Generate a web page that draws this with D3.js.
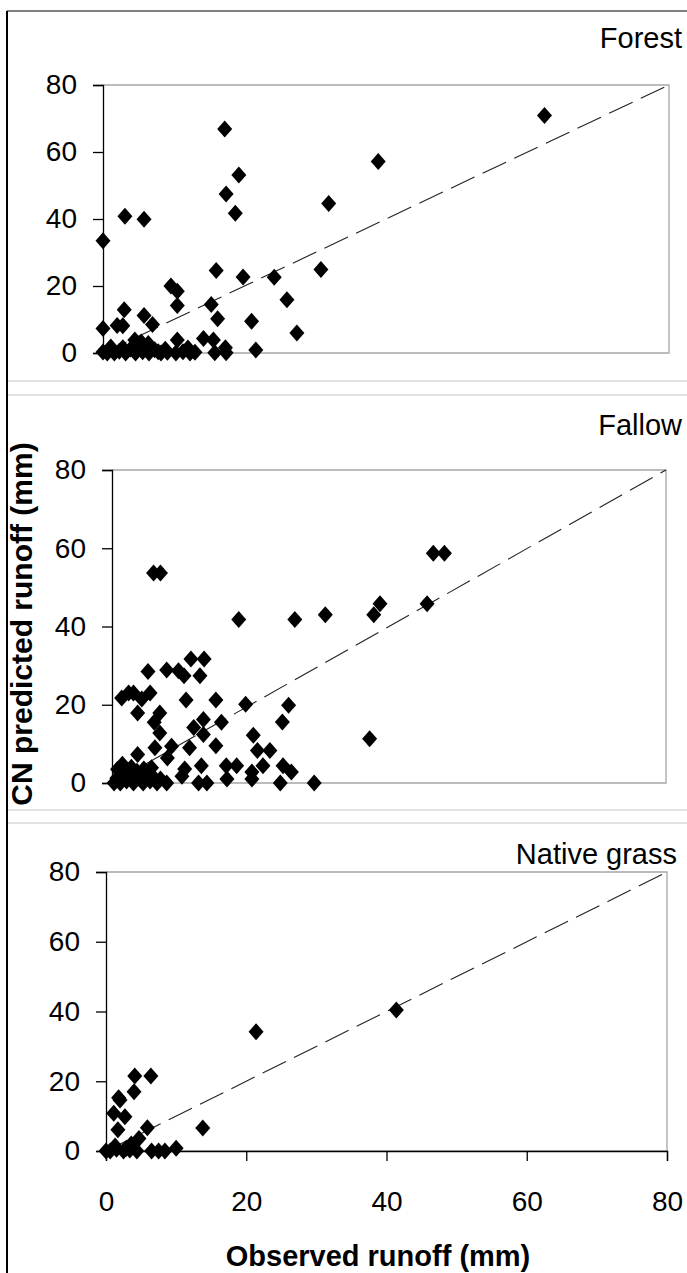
<!DOCTYPE html>
<html>
<head>
<meta charset="utf-8">
<script src="https://cdn.jsdelivr.net/npm/d3@7/dist/d3.min.js"></script>
<style>
  html, body { margin: 0; padding: 0; background: #fff; }
  svg { display: block; }
  text { font-family: "Liberation Sans", Arial, sans-serif; fill: #000; }
</style>
</head>
<body>
<svg id="chart" width="687" height="1273"></svg>
<script>
// ---------- data ----------
const panelNames = ["Forest", "Fallow", "Native grass"];
const axisTicks = [0, 20, 40, 60, 80];
const xTitle = "Observed runoff (mm)";
const yTitle = "CN predicted runoff (mm)";

const forestObserved = [62.4,38.9,17.2,19.2,17.4,18.7,31.9,3.1,5.8,0,16.0,19.8,24.2,30.8,9.6,10.5,10.5,15.3,26.0,16.2,21.0,27.4,21.6,3.0,5.8,7.0,2.0,2.8,0,4.5,5.4,6.4,10.5,14.2,15.6,15.8,17.3,17.4,12.0,
  0,0.6,1.1,1.6,2.3,3.2,3.9,4.6,5.6,6.5,7.3,8.2,9.1,10.3,11.3,12.3,13.0,2.8,5.0,8.8,7.8];
const forestPredicted = [70.9,57.2,66.9,53.1,47.5,41.7,44.6,40.8,39.9,33.5,24.6,22.7,22.6,24.9,20.0,18.4,14.2,14.5,15.9,10.2,9.5,6.0,0.9,12.9,11.2,8.5,8.2,8.1,7.3,3.9,3.3,2.8,3.9,4.3,3.9,0.1,1.6,0.1,1.5,
  0.3,0,1.8,0,0.5,0,1.2,0,0.4,0,1.0,0,0.2,0,0.4,0,0.2,1.6,1.5,1.1,0.4];

const fallowObserved = [46.4,48.0,45.5,38.7,37.8,30.8,26.4,18.3,6.0,7.0,37.2,29.2,25.5,24.6,19.3,15.0,15.8,15.0,20.4,21.0,22.8,21.8,24.7,25.9,24.3,20.2,20.2,16.5,18.0,16.6,11.4,13.3,12.7,10.4,9.6,7.9,5.2,10.7,1.4,2.4,3.1,4.3,5.5,3.7,6.9,6.1,6.9,6.2,8.6,8.0,11.2,13.2,11.8,13.2,3.7,1.5,10.5,12.9,10.1,12.5,13.7,7.9,
  0.3,0.7,1.2,1.6,2.1,2.6,3.1,3.6,4.1,4.5,5.0,5.5,6.0,6.5,7.0,0.8,2.8,4.6,1.9,5.7];
const fallowPredicted = [58.7,58.7,45.8,45.8,43.0,43.0,41.8,41.8,53.7,53.7,11.3,0,19.9,15.6,20.1,21.2,15.5,9.5,12.2,8.3,8.3,4.4,4.4,2.8,0,2.8,1.0,4.4,4.4,1.0,31.7,31.7,27.4,27.4,28.7,28.9,28.5,21.2,21.7,23.0,23.0,21.5,23.0,17.9,17.9,15.5,12.8,9.0,9.4,6.4,9.0,16.2,14.2,12.4,7.3,4.8,3.6,4.4,1.7,0,0,0,
  0,1.2,0,2.5,0.5,1.5,0,3.0,0.8,0,2.2,0.5,1.5,0,1.0,3.5,4.0,3.6,3.0,3.9];

const grassObserved = [41.4,21.4,13.8,6.4,4.1,4.0,1.8,2.0,1.1,2.7,1.7,5.9,4.7,3.6,10.0,6.5,7.5,8.4,0,0.6,1.5,2.5,3.4,4.4,1.3,2.9];
const grassPredicted = [40.4,34.2,6.6,21.5,21.5,17.0,15.3,14.6,10.8,9.8,6.1,6.7,3.6,2.0,0.8,0,0,0,0,0,0.5,0,0.3,0,1.4,0.8];

const observedSets = [forestObserved, fallowObserved, grassObserved];
const predictedSets = [forestPredicted, fallowPredicted, grassPredicted];

// ---------- layout ----------
const layout = [
  { left: 103, right: 669, top: 85,  bottom: 353,  titleX: 682, titleY: 48,  xAxis: false },
  { left: 112, right: 666, top: 470, bottom: 783,  titleX: 682, titleY: 435, xAxis: false },
  { left: 106, right: 667, top: 872, bottom: 1151, titleX: 677, titleY: 864, xAxis: true }
];

const svg = d3.select("#chart");
svg.append("rect").attr("width", 687).attr("height", 1273).attr("fill", "#fff");

// outer frame
svg.append("line").attr("x1", 7).attr("x2", 687).attr("y1", 11).attr("y2", 11)
  .attr("stroke", "#555").attr("stroke-width", 1.5);
svg.append("line").attr("x1", 7).attr("x2", 7).attr("y1", 11).attr("y2", 1273)
  .attr("stroke", "#000").attr("stroke-width", 2);

// separators between panels
[381, 395, 810, 823].forEach(y => {
  svg.append("line").attr("x1", 8).attr("x2", 687).attr("y1", y).attr("y2", y)
    .attr("stroke", "#c8c8c8").attr("stroke-width", 1.2);
});

const diamond = "M0,-8.5L7.5,0L0,8.5L-7.5,0Z";

layout.forEach((L, i) => {
  const x = d3.scaleLinear().domain([0, 80]).range([L.left, L.right]);
  const y = d3.scaleLinear().domain([0, 80]).range([L.bottom, L.top]);
  const g = svg.append("g");

  // plot area border (gray)
  g.append("path")
    .attr("d", `M${x(0)},${y(80)}H${x(80)}V${y(0)}H${x(0)}`)
    .attr("fill", "none").attr("stroke", "#a6a6a6").attr("stroke-width", 1.3);

  // 1:1 dashed line
  g.append("line")
    .attr("x1", x(0)).attr("y1", y(0)).attr("x2", x(80)).attr("y2", y(80))
    .attr("stroke", "#222").attr("stroke-width", 1.1)
    .attr("stroke-dasharray", "26,9");

  // y axis
  const ya = d3.axisLeft(y).tickValues(axisTicks).tickSize(10).tickPadding(16);
  const yg = g.append("g").attr("transform", `translate(${x(0)},0)`).call(ya);
  yg.select(".domain").attr("stroke", "#000").attr("stroke-width", 1.3);
  yg.selectAll(".tick line").attr("stroke", "#000").attr("stroke-width", 1.3);
  yg.selectAll("text").style("font-size", "28px").attr("fill", "#000")
    .style("font-family", "'Liberation Sans', Arial, sans-serif");

  if (L.xAxis) {
    const xa = d3.axisBottom(x).tickValues(axisTicks).tickSize(10).tickPadding(30);
    const xg = g.append("g").attr("transform", `translate(0,${y(0)})`).call(xa);
    xg.select(".domain").attr("stroke", "#000").attr("stroke-width", 1.3);
    xg.selectAll(".tick line").attr("stroke", "#000").attr("stroke-width", 1.3);
    xg.selectAll("text").style("font-size", "28px").attr("fill", "#000")
      .style("font-family", "'Liberation Sans', Arial, sans-serif");
  }

  // points
  const obs = observedSets[i], pred = predictedSets[i];
  g.selectAll("path.pt").data(obs.map((v, k) => [v, pred[k]])).enter()
    .append("path").attr("class", "pt")
    .attr("d", diamond)
    .attr("transform", d => `translate(${x(d[0])},${y(d[1])})`)
    .attr("fill", "#000");

  // panel title
  svg.append("text").attr("x", L.titleX).attr("y", L.titleY)
    .attr("text-anchor", "end").style("font-size", "29px")
    .text(panelNames[i]);
});

// axis titles
svg.append("text").attr("x", 378).attr("y", 1266)
  .attr("text-anchor", "middle").style("font-size", "29px").style("font-weight", "bold")
  .text(xTitle);
svg.append("text").attr("transform", "translate(32,624) rotate(-90)")
  .attr("text-anchor", "middle").style("font-size", "30px").style("font-weight", "bold")
  .text(yTitle);
</script>
</body>
</html>
